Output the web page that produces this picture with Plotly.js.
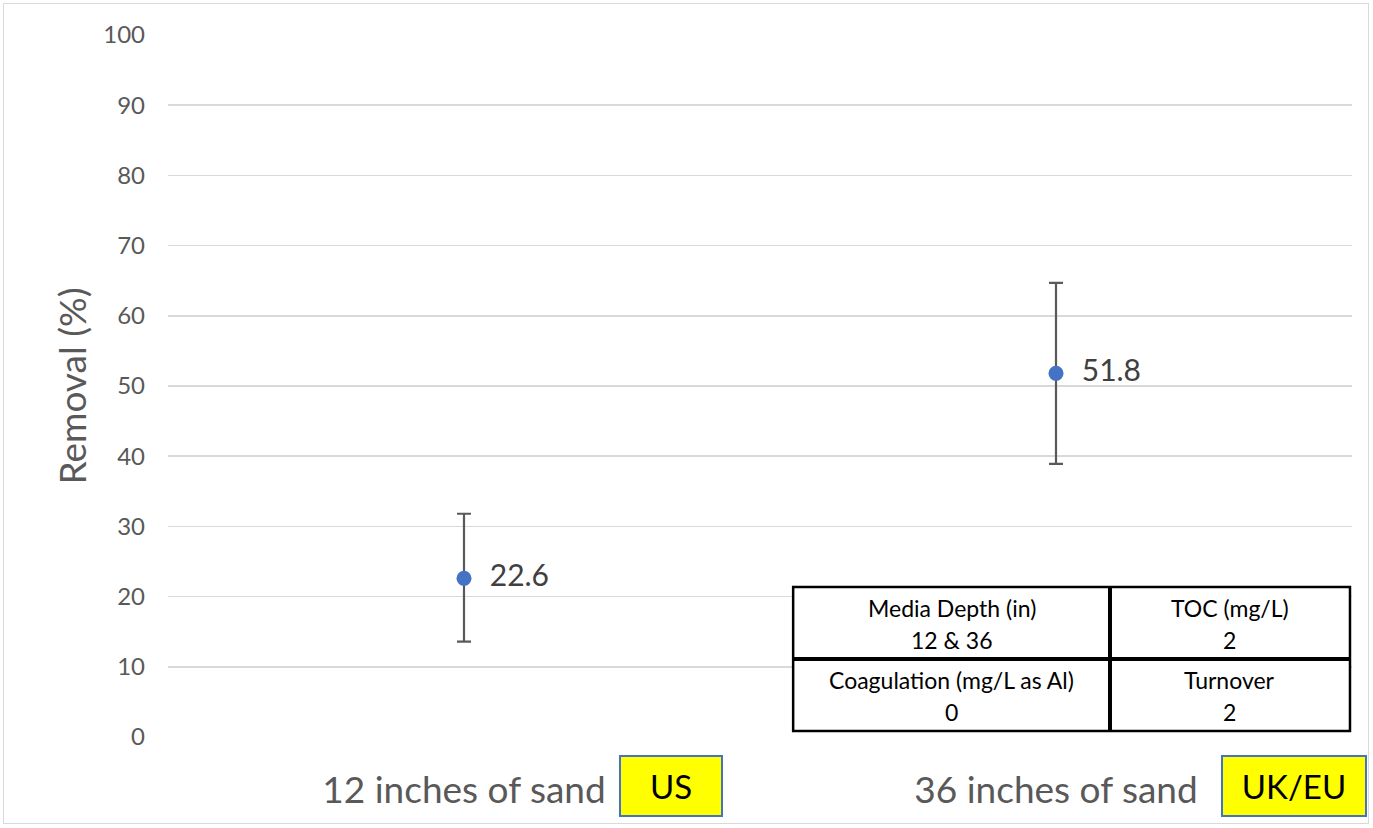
<!DOCTYPE html>
<html>
<head>
<meta charset="utf-8">
<script src="https://cdn.plot.ly/plotly-3.0.1.min.js"></script>
<style>
html,body{margin:0;padding:0;background:#fff;}
#frame{position:absolute;left:3px;top:3px;width:1366px;height:821px;border:1px solid #d9d9d9;box-sizing:border-box;}
#chart{position:absolute;left:0;top:0;width:1373px;height:828px;}
</style>
</head>
<body>
<div id="frame"></div>
<div id="chart"></div>
<script>
const categories = ["12 inches of sand", "36 inches of sand"];
const removal = [22.6, 51.8];
const errPlus = [9.2, 12.9];
const errMinus = [9.0, 12.9];
const regionLabels = ["US", "UK/EU"];
const yTicks = [0, 10, 20, 30, 40, 50, 60, 70, 80, 90, 100];
const tableHeaders = [["Media Depth (in)", "TOC (mg/L)"], ["Coagulation (mg/L as Al)", "Turnover"]];
const tableValues = [["12 & 36", "2"], ["0", "2"]];

const FONT = "Lato, 'Open Sans', sans-serif";

const trace = {
  type: "scatter",
  mode: "markers+text",
  x: categories,
  y: removal,
  text: removal.map(v => "  " + v.toFixed(1)),
  textposition: "middle right",
  textfont: {family: FONT, size: 30, color: "#404040"},
  marker: {color: "#4472c4", size: 15},
  error_y: {type: "data", symmetric: false, array: errPlus, arrayminus: errMinus,
            color: "#595959", thickness: 2.2, width: 7},
  hoverinfo: "skip",
  cliponaxis: false
};

// table geometry (paper coords)
const tx0 = 0.528, tx1 = 0.9983, txm = 0.7956;
const ty0 = 0.0085, ty1 = 0.2137, tym = 0.1111;
const lineStyle = {color: "#000", width: 2.5};
const shapes = [
  {type: "rect", xref: "paper", yref: "paper", x0: tx0, x1: tx1, y0: ty0, y1: ty1, line: lineStyle, fillcolor: "#fff", layer: "above"},
  {type: "line", xref: "paper", yref: "paper", x0: txm, x1: txm, y0: ty0, y1: ty1, line: {color: "#000", width: 4}, layer: "above"},
  {type: "line", xref: "paper", yref: "paper", x0: tx0, x1: tx1, y0: tym, y1: tym, line: {color: "#000", width: 4}, layer: "above"}
];

const annotations = [];
const colCenters = [(tx0 + txm) / 2, (txm + tx1) / 2];
const rowTops = [ty1, tym];
const rowH = ty1 - tym;
for (let r = 0; r < 2; r++) {
  for (let c = 0; c < 2; c++) {
    annotations.push({xref: "paper", yref: "paper", x: colCenters[c], y: rowTops[r] - rowH * 0.29,
      xanchor: "center", yanchor: "middle",
      text: tableHeaders[r][c], showarrow: false, font: {family: FONT, size: 23, color: "#000"}});
    annotations.push({xref: "paper", yref: "paper", x: colCenters[c], y: rowTops[r] - rowH * 0.73,
      xanchor: "center", yanchor: "middle",
      text: tableValues[r][c], showarrow: false, font: {family: FONT, size: 23, color: "#000"}});
  }
}
// region boxes
const boxX = [0.4248, 0.951];
const boxW = [100, 142];
for (let i = 0; i < regionLabels.length; i++) {
  annotations.push({xref: "paper", yref: "paper", x: boxX[i], y: -0.0698, xanchor: "center", yanchor: "middle",
    text: regionLabels[i], showarrow: false, bgcolor: "#ffff00", bordercolor: "#4472c4", borderwidth: 2,
    width: boxW[i], height: 58, borderpad: 0, font: {family: FONT, size: 33, color: "#000"}});
}

const layout = {
  width: 1373, height: 828,
  margin: {l: 168, r: 21, t: 35, b: 91},
  paper_bgcolor: "rgba(0,0,0,0)",
  plot_bgcolor: "#fff",
  showlegend: false,
  xaxis: {
    type: "category", range: [-0.5, 1.5], showgrid: false, zeroline: false, showline: false,
    ticks: "", tickfont: {family: FONT, size: 37, color: "#595959"}, ticklabelstandoff: 28,
    fixedrange: true
  },
  yaxis: {
    range: [0, 100], tickvals: yTicks, ticktext: yTicks.map(String),
    showgrid: true, gridcolor: "#d9d9d9", gridwidth: 1.5, zeroline: false, showline: false,
    ticks: "", tickfont: {family: FONT, size: 24, color: "#595959"}, ticklabelstandoff: 22,
    title: {text: "Removal (%)", font: {family: FONT, size: 37, color: "#595959"}, standoff: 5},
    automargin: false, fixedrange: true
  },
  shapes: shapes,
  annotations: annotations
};

Plotly.newPlot("chart", [trace], layout, {displayModeBar: false, staticPlot: true});
</script>
</body>
</html>
